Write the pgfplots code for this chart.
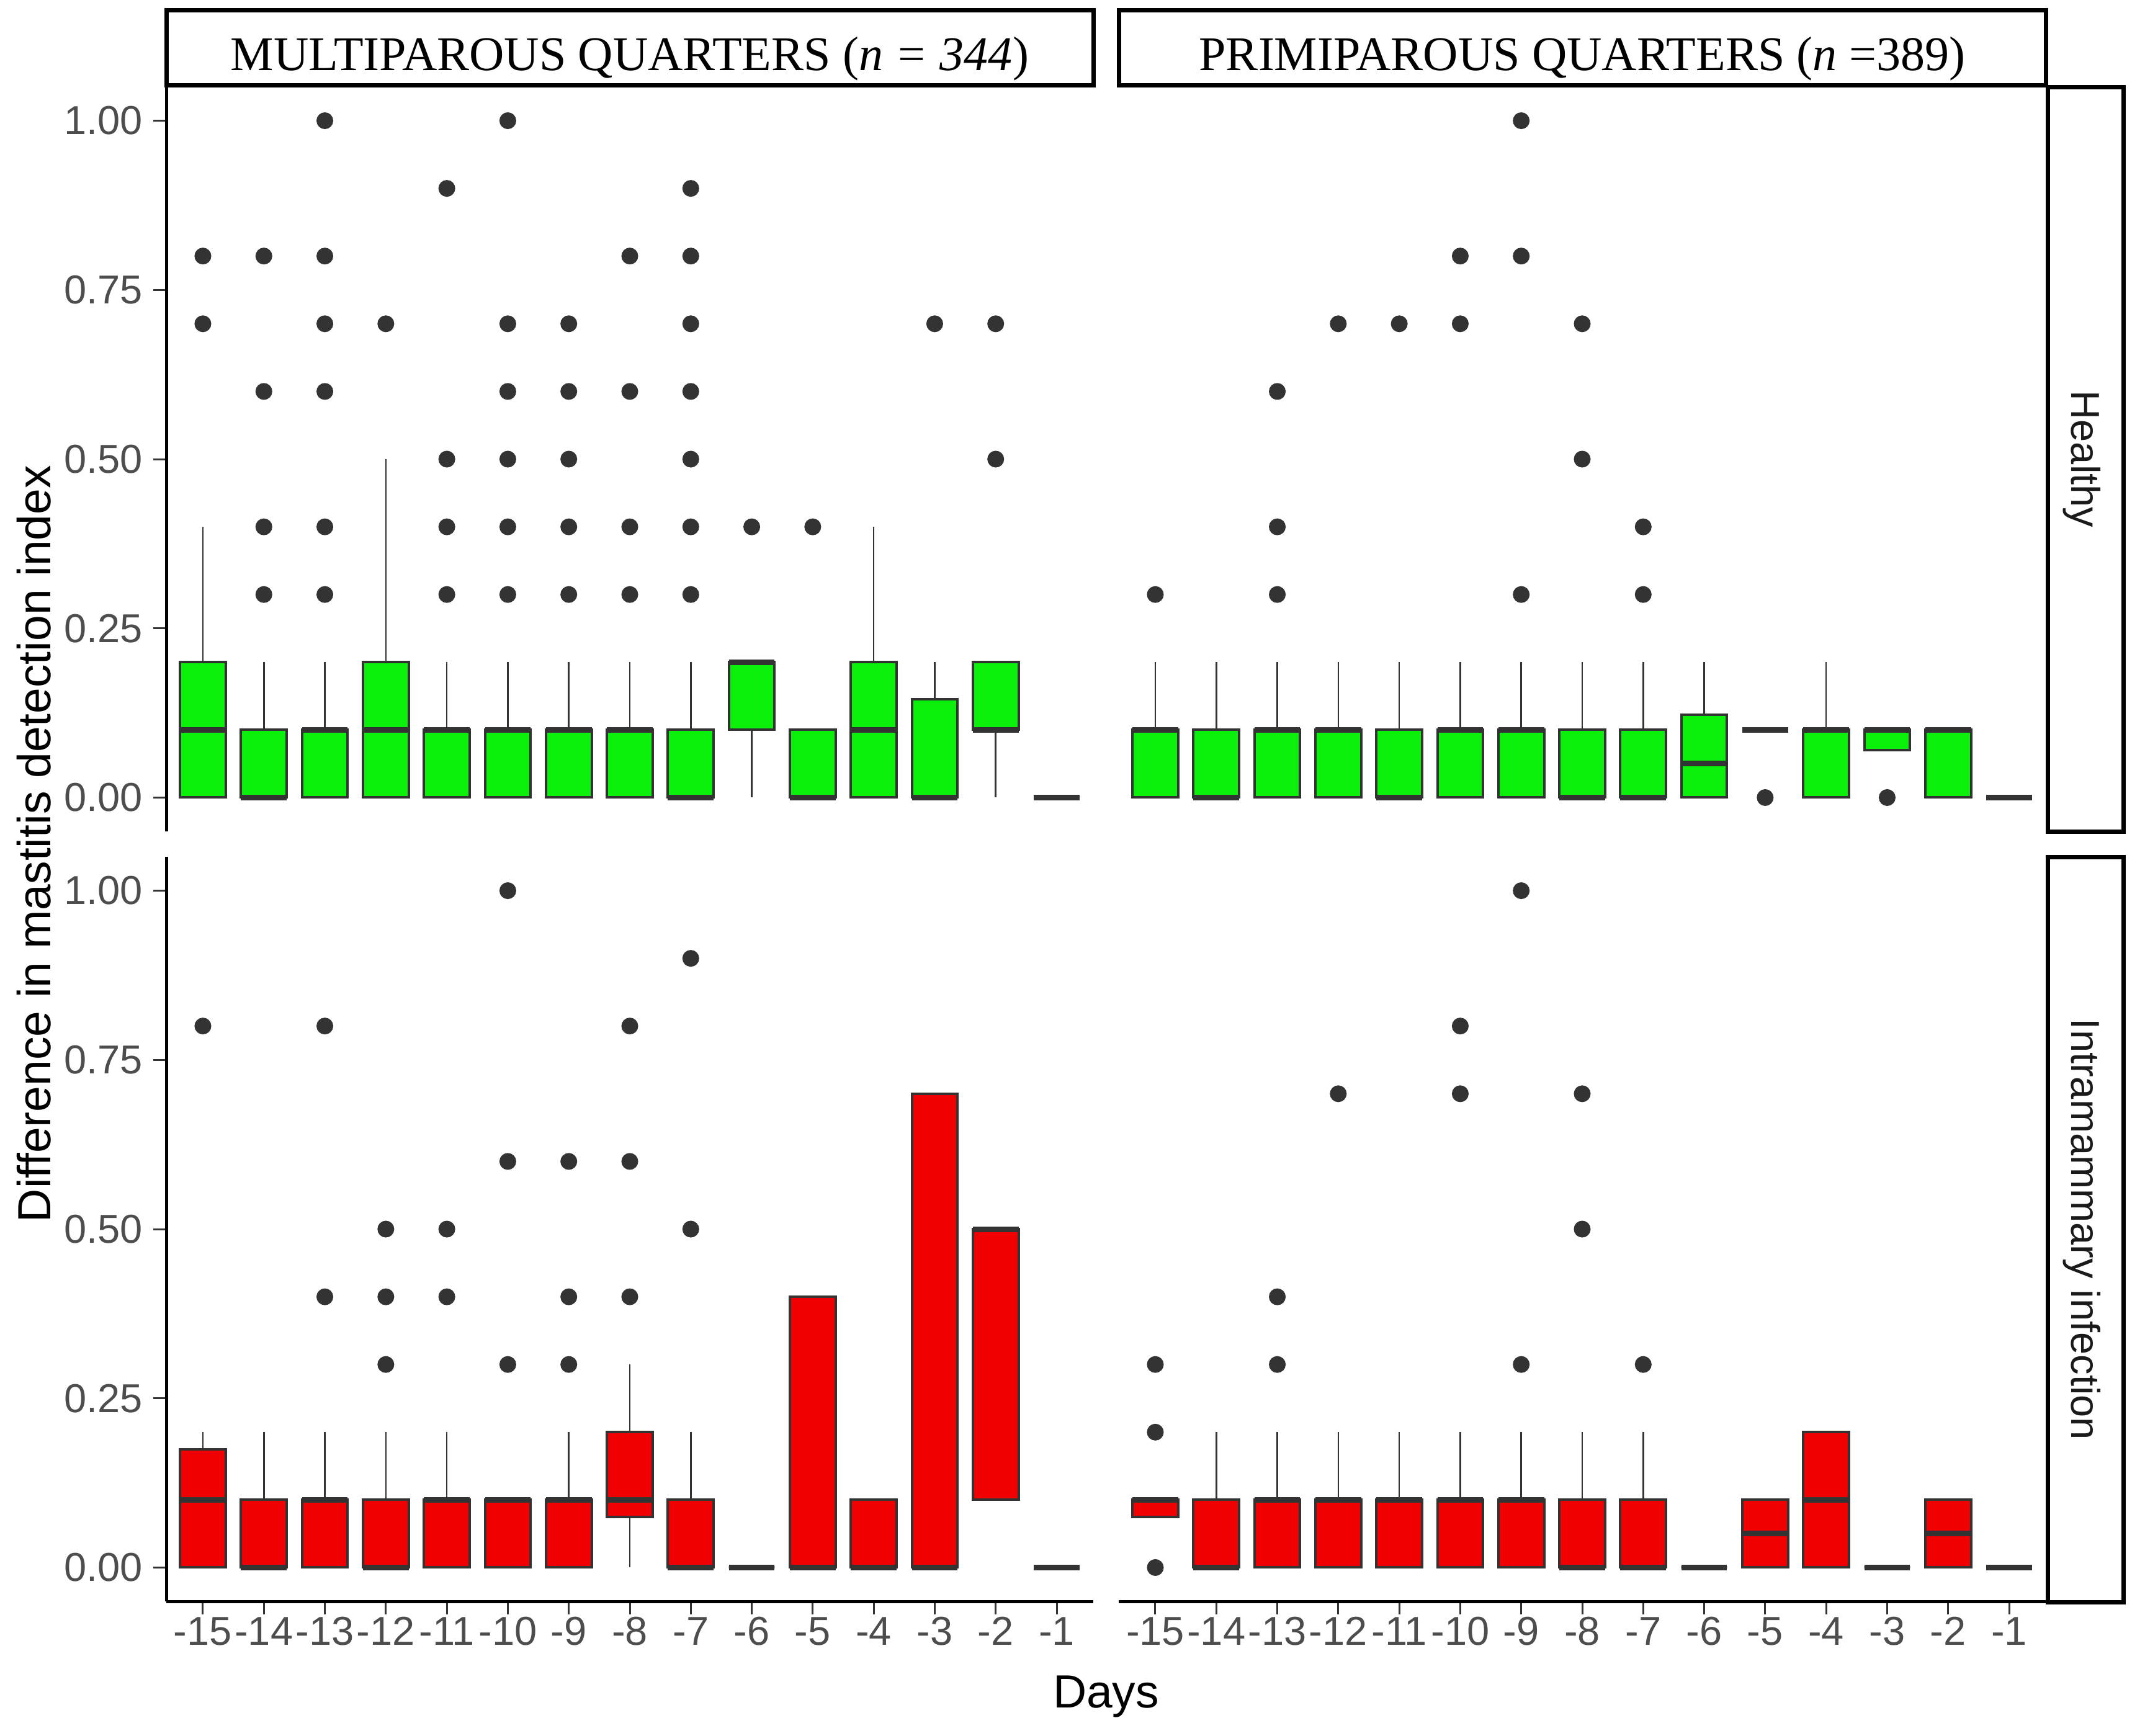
\documentclass[border=0pt]{standalone}
\usepackage{fontspec}
\setmainfont{Liberation Sans}
\newfontfamily\stripserif{Liberation Serif}
\usepackage{pgfplots}
\pgfplotsset{compat=1.18}
\usepgfplotslibrary{statistics}

\definecolor{hgreen}{HTML}{0BF00B}
\definecolor{ired}{HTML}{F00000}
\definecolor{gray20}{HTML}{333333}
\definecolor{gray30}{HTML}{4D4D4D}
\definecolor{gray10}{HTML}{1A1A1A}

% one box: position, lower whisker, lower quartile, median, upper quartile, upper whisker, outliers
\newcommand{\bx}[7]{%
  \addplot[draw=gray20, line width=0.8pt, mark=*, mark size=2.3pt,
    mark options={fill=gray20, draw=none},
    boxplot prepared={draw position=#1, lower whisker=#2, lower quartile=#3,
      median=#4, upper quartile=#5, upper whisker=#6}]
    coordinates {#7};}

\pgfplotsset{
  facet/.style={
    scale only axis, width=298.8pt, height=240pt,
    xmin=0.4, xmax=15.6, ymin=-0.05, ymax=1.05,
    xtick={1,...,15},
    xticklabels={-15,-14,-13,-12,-11,-10,-9,-8,-7,-6,-5,-4,-3,-2,-1},
    ytick={0,0.25,0.5,0.75,1},
    yticklabels={0.00,0.25,0.50,0.75,1.00},
    tick align=outside, major tick length=4.2pt,
    every tick/.style={draw=gray20, line width=0.6pt},
    axis line style={-, black, line width=1pt},
    every tick label/.append style={font=\fontsize{13}{15}\selectfont, text=gray30},
    xticklabel style={anchor=north, inner sep=0pt, yshift=-0.7pt},
    yticklabel style={anchor=east, inner sep=0pt, xshift=-3.2pt},
    boxplot/draw direction=y,
    boxplot/box extend=0.75,
    boxplot/whisker extend=0,
    boxplot/every whisker/.style={line width=0.5pt},
    boxplot/every median/.style={line width=1.8pt},
    clip=false,
  },
  green box/.style={boxplot/every box/.append style={fill=hgreen}},
  red box/.style={boxplot/every box/.append style={fill=ired}},
}

\begin{document}
\begin{tikzpicture}
\useasboundingbox (0,0) rectangle (691.4pt,-559.6pt);

% multiparous, healthy
\begin{axis}[facet, green box, name=tl, at={(53.6pt,-28pt)}, anchor=north west,
  axis x line=none, axis y line*=left]
\bx{1}{0}{0}{0.1}{0.2}{0.4}{(0,0.7) (0,0.8)}
\bx{2}{0}{0}{0}{0.1}{0.2}{(0,0.3) (0,0.4) (0,0.6) (0,0.8)}
\bx{3}{0}{0}{0.1}{0.1}{0.2}{(0,0.3) (0,0.4) (0,0.6) (0,0.7) (0,0.8) (0,1.0)}
\bx{4}{0}{0}{0.1}{0.2}{0.5}{(0,0.7)}
\bx{5}{0}{0}{0.1}{0.1}{0.2}{(0,0.3) (0,0.4) (0,0.5) (0,0.9)}
\bx{6}{0}{0}{0.1}{0.1}{0.2}{(0,0.3) (0,0.4) (0,0.5) (0,0.6) (0,0.7) (0,1.0)}
\bx{7}{0}{0}{0.1}{0.1}{0.2}{(0,0.3) (0,0.4) (0,0.5) (0,0.6) (0,0.7)}
\bx{8}{0}{0}{0.1}{0.1}{0.2}{(0,0.3) (0,0.4) (0,0.6) (0,0.8)}
\bx{9}{0}{0}{0}{0.1}{0.2}{(0,0.3) (0,0.4) (0,0.5) (0,0.6) (0,0.7) (0,0.8) (0,0.9)}
\bx{10}{0}{0.1}{0.2}{0.2}{0.2}{(0,0.4)}
\bx{11}{0}{0}{0}{0.1}{0.1}{(0,0.4)}
\bx{12}{0}{0}{0.1}{0.2}{0.4}{}
\bx{13}{0}{0}{0}{0.145}{0.2}{(0,0.7)}
\bx{14}{0}{0.1}{0.1}{0.2}{0.2}{(0,0.5) (0,0.7)}
\bx{15}{0}{0}{0}{0}{0}{}
\end{axis}

% primiparous, healthy
\begin{axis}[facet, green box, name=tr, at={(360.6pt,-28pt)}, anchor=north west,
  axis x line=none, axis y line=none]
\bx{1}{0}{0}{0.1}{0.1}{0.2}{(0,0.3)}
\bx{2}{0}{0}{0}{0.1}{0.2}{}
\bx{3}{0}{0}{0.1}{0.1}{0.2}{(0,0.3) (0,0.4) (0,0.6)}
\bx{4}{0}{0}{0.1}{0.1}{0.2}{(0,0.7)}
\bx{5}{0}{0}{0}{0.1}{0.2}{(0,0.7)}
\bx{6}{0}{0}{0.1}{0.1}{0.2}{(0,0.7) (0,0.8)}
\bx{7}{0}{0}{0.1}{0.1}{0.2}{(0,0.3) (0,0.8) (0,1.0)}
\bx{8}{0}{0}{0}{0.1}{0.2}{(0,0.5) (0,0.7)}
\bx{9}{0}{0}{0}{0.1}{0.2}{(0,0.3) (0,0.4)}
\bx{10}{0}{0}{0.05}{0.122}{0.2}{}
\bx{11}{0.1}{0.1}{0.1}{0.1}{0.1}{(0,0)}
\bx{12}{0}{0}{0.1}{0.1}{0.2}{}
\bx{13}{0.07}{0.07}{0.1}{0.1}{0.1}{(0,0)}
\bx{14}{0}{0}{0.1}{0.1}{0.1}{}
\bx{15}{0}{0}{0}{0}{0}{}
\end{axis}

% multiparous, intramammary infection
\begin{axis}[facet, red box, name=bl, at={(53.6pt,-276.2pt)}, anchor=north west,
  axis x line*=bottom, axis y line*=left]
\bx{1}{0}{0}{0.1}{0.175}{0.2}{(0,0.8)}
\bx{2}{0}{0}{0}{0.1}{0.2}{}
\bx{3}{0}{0}{0.1}{0.1}{0.2}{(0,0.4) (0,0.8)}
\bx{4}{0}{0}{0}{0.1}{0.2}{(0,0.3) (0,0.4) (0,0.5)}
\bx{5}{0}{0}{0.1}{0.1}{0.2}{(0,0.4) (0,0.5)}
\bx{6}{0}{0}{0.1}{0.1}{0.1}{(0,0.3) (0,0.6) (0,1.0)}
\bx{7}{0}{0}{0.1}{0.1}{0.2}{(0,0.3) (0,0.4) (0,0.6)}
\bx{8}{0}{0.075}{0.1}{0.2}{0.3}{(0,0.4) (0,0.6) (0,0.8)}
\bx{9}{0}{0}{0}{0.1}{0.2}{(0,0.5) (0,0.9)}
\bx{10}{0}{0}{0}{0}{0}{}
\bx{11}{0}{0}{0}{0.4}{0.4}{}
\bx{12}{0}{0}{0}{0.1}{0.1}{}
\bx{13}{0}{0}{0}{0.7}{0.7}{}
\bx{14}{0.1}{0.1}{0.5}{0.5}{0.5}{}
\bx{15}{0}{0}{0}{0}{0}{}
\end{axis}

% primiparous, intramammary infection
\begin{axis}[facet, red box, name=br, at={(360.6pt,-276.2pt)}, anchor=north west,
  axis x line*=bottom, axis y line=none]
\bx{1}{0.075}{0.075}{0.1}{0.1}{0.1}{(0,0) (0,0.2) (0,0.3)}
\bx{2}{0}{0}{0}{0.1}{0.2}{}
\bx{3}{0}{0}{0.1}{0.1}{0.2}{(0,0.3) (0,0.4)}
\bx{4}{0}{0}{0.1}{0.1}{0.2}{(0,0.7)}
\bx{5}{0}{0}{0.1}{0.1}{0.2}{}
\bx{6}{0}{0}{0.1}{0.1}{0.2}{(0,0.7) (0,0.8)}
\bx{7}{0}{0}{0.1}{0.1}{0.2}{(0,0.3) (0,1.0)}
\bx{8}{0}{0}{0}{0.1}{0.2}{(0,0.5) (0,0.7)}
\bx{9}{0}{0}{0}{0.1}{0.2}{(0,0.3)}
\bx{10}{0}{0}{0}{0}{0}{}
\bx{11}{0}{0}{0.05}{0.1}{0.1}{}
\bx{12}{0}{0}{0.1}{0.2}{0.2}{}
\bx{13}{0}{0}{0}{0}{0}{}
\bx{14}{0}{0}{0.05}{0.1}{0.1}{}
\bx{15}{0}{0}{0}{0}{0}{}
\end{axis}

% facet strips
\draw[line width=1.4pt] (53.6pt,-3.2pt) rectangle (352.4pt,-27.4pt);
\draw[line width=1.4pt] (360.6pt,-3.2pt) rectangle (659.4pt,-27.4pt);
\node[anchor=base, inner sep=0pt, font=\stripserif\fontsize{15.6}{18}\selectfont]
  at (203pt,-22.6pt) {MULTIPAROUS QUARTERS (\textit{n = 344})};
\node[anchor=base, inner sep=0pt, font=\stripserif\fontsize{15.6}{18}\selectfont]
  at (510pt,-22.6pt) {PRIMIPAROUS QUARTERS (\textit{n} =389)};
\draw[line width=1.4pt] (660pt,-28pt) rectangle (684.4pt,-268pt);
\draw[line width=1.4pt] (660pt,-276.2pt) rectangle (684.4pt,-516.4pt);
\node[rotate=-90, inner sep=0pt, text=gray10, font=\fontsize{13}{16}\selectfont]
  at (671pt,-148pt) {Healthy};
\node[rotate=-90, inner sep=0pt, text=gray10, font=\fontsize{13}{16}\selectfont]
  at (671pt,-396.3pt) {Intramammary infection};

% axis titles
\node[font=\fontsize{15}{18}\selectfont] at (356.5pt,-546.8pt) {Days};
\node[rotate=90, font=\fontsize{15}{18}\selectfont] at (11pt,-272pt)
  {Difference in mastitis detection index};
\end{tikzpicture}
\end{document}
